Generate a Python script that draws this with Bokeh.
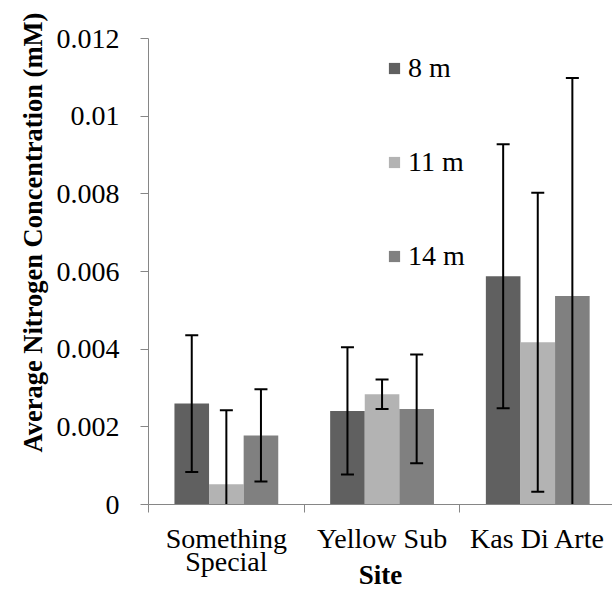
from bokeh.plotting import figure
from bokeh.models import ColumnDataSource, Range1d, FixedTicker, Legend, Title
from bokeh.transform import dodge
from bokeh.embed import file_html
from bokeh.resources import INLINE

# Average nitrogen concentration (mM) by site and depth, with error bars
sites = ["Something\nSpecial", "Yellow Sub", "Kas Di Arte"]
depths = ["8 m", "11 m", "14 m"]

mean_8m = [0.00260, 0.00241, 0.00588]
mean_11m = [0.00052, 0.00284, 0.00418]
mean_14m = [0.00178, 0.00246, 0.00537]

err_8m = [0.00176, 0.00164, 0.00340]
err_11m = [0.00191, 0.00038, 0.00385]
err_14m = [0.00119, 0.00140, 0.00561]

y_tick_values = [0, 0.002, 0.004, 0.006, 0.008, 0.010, 0.012]
y_tick_labels = ["0", "0.002", "0.004", "0.006", "0.008", "0.01", "0.012"]

colors = ["#606060", "#b3b3b3", "#808080"]
FONT = "'Liberation Serif', 'Times New Roman', serif"

centers = [i + 0.5 for i in range(len(sites))]
src = dict(x=centers)
for name, m, e in (("d8", mean_8m, err_8m), ("d11", mean_11m, err_11m), ("d14", mean_14m, err_14m)):
    src[name] = m
    src[name + "_lo"] = [a - b for a, b in zip(m, e)]
    src[name + "_hi"] = [a + b for a, b in zip(m, e)]
source = ColumnDataSource(src)

p = figure(width=612, height=592, output_backend="svg", toolbar_location=None,
           x_range=Range1d(0, 2.98), y_range=Range1d(0, 0.012),
           min_border_left=148, min_border_right=0, min_border_top=38,
           min_border_bottom=88)
p.outline_line_color = None
p.xgrid.visible = False
p.ygrid.visible = False

bar_w = 1 / 4.5
offsets = [-bar_w, 0.0, bar_w]
renderers = []
for key, off, col in zip(("d8", "d11", "d14"), offsets, colors):
    xs = dodge("x", off, range=p.x_range)
    r = p.vbar(x=xs, top=key, width=bar_w, source=source,
               fill_color=col, line_color=None)
    renderers.append(r)
    p.segment(x0=xs, y0=key + "_lo", x1=xs, y1=key + "_hi", source=source,
              line_color="black", line_width=2)
    for end in ("_lo", "_hi"):
        p.scatter(x=xs, y=key + end, source=source, marker="dash", size=13,
                  line_color="black", line_width=2)

legend = Legend(items=[(d, [r]) for d, r in zip(depths, renderers)],
                location=(239, 231), orientation="vertical",
                glyph_width=14, glyph_height=14, label_standoff=7,
                label_height=34, spacing=60, padding=0, margin=0,
                border_line_color=None, background_fill_alpha=0,
                label_text_font=FONT, label_text_font_size="28px",
                label_text_color="black")
p.add_layout(legend, "center")

axis_color = "#868686"

# x axis: site names centred in each group, tick marks on group boundaries
xa = p.xaxis[0]
xa.ticker = FixedTicker(ticks=centers, minor_ticks=[0, 1, 2, 3])
xa.major_label_overrides = {c: s for c, s in zip(centers, sites)}
xa.major_tick_line_color = None
xa.major_tick_out = 0
xa.major_tick_in = 0
xa.minor_tick_line_color = axis_color
xa.minor_tick_out = 8
xa.minor_tick_in = 0
xa.axis_line_color = axis_color
xa.major_label_standoff = 10
xa.major_label_text_font = FONT
xa.major_label_text_font_size = "28px"
xa.major_label_text_color = "black"
xa.major_label_text_line_height = 0.75
xa.axis_label = "Site"
xa.axis_label_text_font = FONT
xa.axis_label_text_font_style = "bold"
xa.axis_label_text_font_size = "27px"
xa.axis_label_text_color = "black"
xa.axis_label_standoff = -20

ya = p.yaxis[0]
ya.ticker = FixedTicker(ticks=y_tick_values, minor_ticks=[])
ya.major_label_overrides = {v: s for v, s in zip(y_tick_values, y_tick_labels)}
ya.major_tick_line_color = axis_color
ya.major_tick_out = 8
ya.major_tick_in = 0
ya.minor_tick_line_color = None
ya.axis_line_color = axis_color
ya.major_label_standoff = 21
ya.major_label_text_font = FONT
ya.major_label_text_font_size = "28px"
ya.major_label_text_color = "black"

# vertical axis title in the left margin, starting a little above the x axis
p.add_layout(Title(text="Average Nitrogen Concentration (mM)", align="left",
                   offset=52, standoff=12, text_font=FONT, text_font_style="bold",
                   text_font_size="26.5px", text_color="black"), "left")

open("out.html", "w").write(file_html(p, INLINE))
